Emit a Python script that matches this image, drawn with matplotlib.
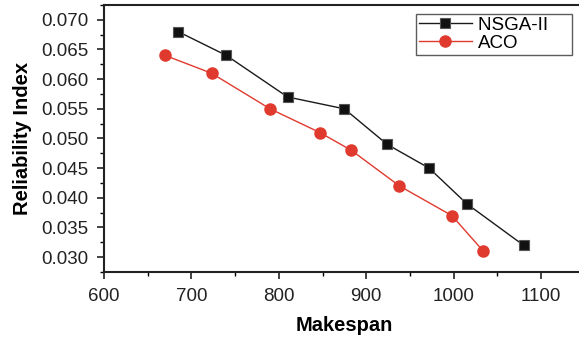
import matplotlib
matplotlib.use("Agg")
import matplotlib.pyplot as plt
from matplotlib.ticker import MultipleLocator

plt.rcParams['font.family'] = ['Liberation Sans', 'DejaVu Sans']

nsga_x = [685, 740, 810, 875, 924, 972, 1015, 1080]
nsga_y = [0.068, 0.064, 0.057, 0.055, 0.049, 0.045, 0.039, 0.032]
aco_x = [670, 723, 790, 847, 883, 938, 998, 1034]
aco_y = [0.064, 0.061, 0.055, 0.051, 0.048, 0.042, 0.037, 0.031]
xticks = [600, 700, 800, 900, 1000, 1100]
yticks = [0.030, 0.035, 0.040, 0.045, 0.050, 0.055, 0.060, 0.065, 0.070]

fig = plt.figure(figsize=(5.79, 3.38), dpi=100)
ax = fig.add_axes([104/579, 1 - 272/338, (579 - 104)/579 + 0.01, (272 - 5)/338])

ax.plot(nsga_x, nsga_y, color='#1a1a1a', lw=1.0, marker='s', ms=7,
        markerfacecolor='#111111', markeredgecolor='#555555', mew=0.8, label='NSGA-II    ')
ax.plot(aco_x, aco_y, color='#e03a2e', lw=1.0, marker='o', ms=8,
        markerfacecolor='#e03a2e', markeredgecolor='#e03a2e', label='ACO')

ax.set_xlim(600, 1150)
ax.set_ylim(0.0275, 0.0725)
ax.set_xticks(xticks)
ax.set_yticks(yticks)
ax.set_yticklabels([f"{v:.3f}" for v in yticks])
ax.xaxis.set_minor_locator(MultipleLocator(50))
ax.yaxis.set_minor_locator(MultipleLocator(0.0025))
ax.tick_params(which='major', direction='out', length=5, width=1.2, labelsize=13.5,
               colors='#222222', pad=6.5)
ax.tick_params(which='minor', direction='out', length=3, width=1.0)
for s in ['left', 'bottom', 'top']:
    ax.spines[s].set_linewidth(1.5)
    ax.spines[s].set_color('#222222')
ax.spines['right'].set_visible(False)

ax.set_xlabel('Makespan', fontsize=14.5, fontweight='bold', labelpad=8)
ax.set_ylabel('Reliability Index', fontsize=14.5, fontweight='bold', labelpad=6.5)

leg = ax.legend(loc='upper right', bbox_to_anchor=(572/579, 1 - 14/338),
                bbox_transform=fig.transFigure, fontsize=13.5, frameon=True,
                fancybox=False, edgecolor='#333333', handlelength=2.8, borderpad=0.15,
                labelspacing=0.05, handletextpad=0.35, borderaxespad=0)
leg.get_frame().set_linewidth(1.0)

fig.savefig('out.png', dpi=100)
